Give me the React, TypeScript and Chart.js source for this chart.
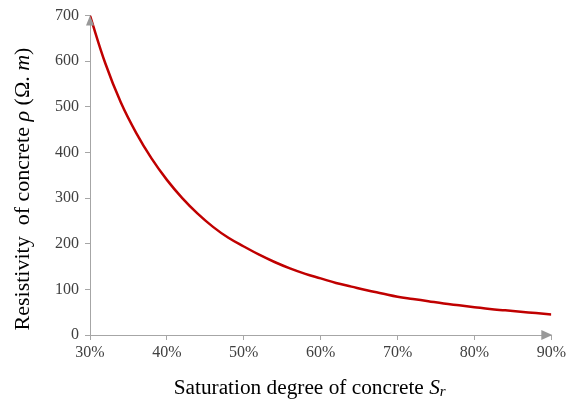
import React, { useEffect, useRef } from "react";
import { Chart, registerables } from "chart.js";

Chart.register(...registerables);

// Saturation degree (fraction) and resistivity (Ω·m)
const saturation = [0.30, 0.32, 0.34, 0.36, 0.38, 0.40, 0.42, 0.44, 0.46, 0.48, 0.50, 0.52, 0.54, 0.56, 0.58, 0.60, 0.62, 0.64, 0.66, 0.68, 0.70, 0.72, 0.74, 0.76, 0.78, 0.80, 0.82, 0.84, 0.86, 0.88, 0.90];
const resistivity = [700, 595, 510, 443, 387, 340, 300, 266, 237, 213, 194, 176, 160, 146, 134, 124, 114, 106, 98, 91, 84, 79, 74, 69, 65, 61, 57, 54, 51, 48, 45];

const xTicks = [0.3, 0.4, 0.5, 0.6, 0.7, 0.8, 0.9];
const yTicks = [0, 100, 200, 300, 400, 500, 600, 700];

const xTitleRuns = [
  { t: "Saturation degree of concrete ", italic: false, size: 21.3, dy: 0 },
  { t: "S", italic: true, size: 21.3, dy: 0 },
  { t: "r", italic: true, size: 15, dy: 4 },
];
const yTitleRuns = [
  { t: "Resistivity  of concrete ", italic: false, size: 22, dy: 0 },
  { t: "ρ", italic: true, size: 22, dy: 0 },
  { t: " (Ω. ", italic: false, size: 22, dy: 0 },
  { t: "m", italic: true, size: 22, dy: 0 },
  { t: ")", italic: false, size: 22, dy: 0 },
];

const FAMILY = "'Liberation Serif', 'Times New Roman', serif";

function drawRuns(ctx: CanvasRenderingContext2D, runs: any[], cx: number, cy: number) {
  let total = 0;
  for (const r of runs) {
    ctx.font = `${r.italic ? "italic " : ""}${r.size}px ${FAMILY}`;
    total += ctx.measureText(r.t).width;
  }
  let x = cx - total / 2;
  ctx.textAlign = "left";
  ctx.textBaseline = "middle";
  for (const r of runs) {
    ctx.font = `${r.italic ? "italic " : ""}${r.size}px ${FAMILY}`;
    ctx.fillText(r.t, x, cy + r.dy);
    x += ctx.measureText(r.t).width;
  }
}

const decorPlugin = {
  id: "decor",
  afterDraw(chart: any) {
    const ctx: CanvasRenderingContext2D = chart.ctx;
    const xs = chart.scales.x;
    const ys = chart.scales.y;
    ctx.save();
    ctx.fillStyle = "#999999";
    // up arrow on y axis
    ctx.beginPath();
    ctx.moveTo(xs.left, ys.top);
    ctx.lineTo(xs.left - 4, ys.top + 10);
    ctx.lineTo(xs.left + 4, ys.top + 10);
    ctx.closePath();
    ctx.fill();
    // right arrow on x axis
    ctx.beginPath();
    ctx.moveTo(xs.right + 1, ys.bottom);
    ctx.lineTo(xs.right - 10, ys.bottom - 5);
    ctx.lineTo(xs.right - 10, ys.bottom + 5);
    ctx.closePath();
    ctx.fill();

    ctx.fillStyle = "#000000";
    drawRuns(ctx, xTitleRuns, (xs.left + xs.right) / 2 - 11, 388);
    ctx.translate(23, 189);
    ctx.rotate(-Math.PI / 2);
    drawRuns(ctx, yTitleRuns, 0, 0);
    ctx.restore();
  },
};

export default function App() {
  const ref = useRef<HTMLCanvasElement | null>(null);
  useEffect(() => {
    document.body.style.background = "#ffffff";
    const chart = new Chart(ref.current as HTMLCanvasElement, {
      type: "line",
      data: {
        datasets: [
          {
            data: saturation.map((s, i) => ({ x: s, y: resistivity[i] })),
            borderColor: "#c00000",
            borderWidth: 2.5,
            pointRadius: 0,
            tension: 0.4,
            fill: false,
          },
        ],
      },
      options: {
        animation: false,
        responsive: false,
        maintainAspectRatio: false,
        layout: { padding: { top: 10, right: 15, left: 0, bottom: 0 } },
        plugins: { legend: { display: false }, tooltip: { enabled: false } },
        scales: {
          x: {
            type: "linear",
            min: 0.3,
            max: 0.9,
            afterBuildTicks: (s: any) => {
              s.ticks = xTicks.map((v) => ({ value: v }));
            },
            afterFit: (s: any) => {
              s.height = 72;
            },
            ticks: {
              callback: (v: any) => `${Math.round(Number(v) * 100)}%`,
              color: "#404040",
              font: { family: FAMILY, size: 16 },
              padding: 3,
              maxRotation: 0,
            },
            grid: { drawOnChartArea: false, tickLength: 5, color: "#a6a6a6", tickColor: "#a6a6a6" },
            border: { color: "#a6a6a6", width: 1 },
          },
          y: {
            min: 0,
            max: 700,
            afterBuildTicks: (s: any) => {
              s.ticks = yTicks.map((v) => ({ value: v }));
            },
            afterFit: (s: any) => {
              s.width = 90;
            },
            ticks: {
              color: "#404040",
              font: { family: FAMILY, size: 16 },
              padding: 6,
            },
            grid: { drawOnChartArea: false, tickLength: 5, color: "#a6a6a6", tickColor: "#a6a6a6" },
            border: { color: "#a6a6a6", width: 1 },
          },
        },
      },
      plugins: [decorPlugin],
    } as any);
    return () => chart.destroy();
  }, []);
  return (
    <div style={{ position: "fixed", left: 0, top: 0, width: 569, height: 407, background: "#fff" }}>
      <canvas ref={ref} width={569} height={407} style={{ width: 569, height: 407 }} />
    </div>
  );
}
